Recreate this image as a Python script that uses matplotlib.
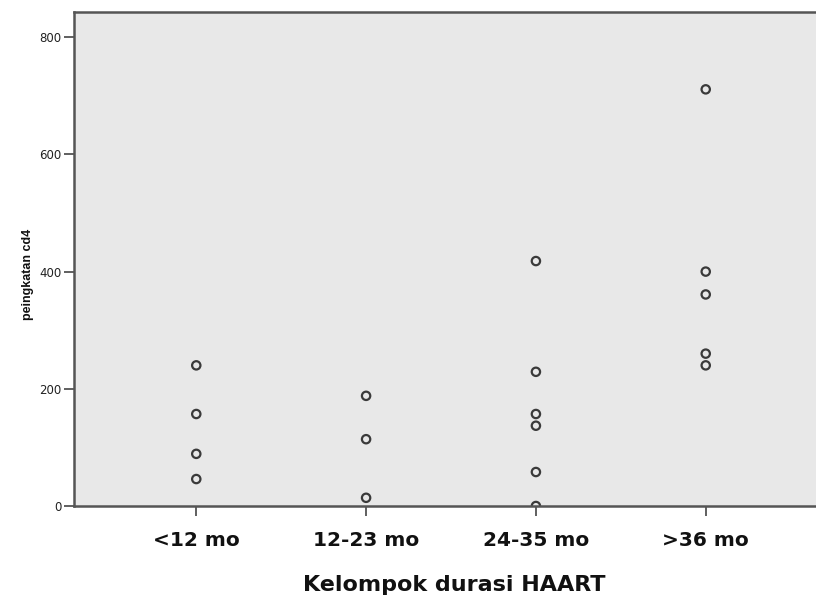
import matplotlib
matplotlib.use("Agg")
import matplotlib.pyplot as plt
from matplotlib import font_manager

categories = ["<12 mo", "12-23 mo", "24-35 mo", ">36 mo"]
group_lt12 = [240, 157, 89, 46]
group_12_23 = [188, 114, 14]
group_24_35 = [418, 229, 157, 137, 58, 0]
group_gt36 = [711, 400, 361, 260, 240]
y_ticks = [0, 200, 400, 600, 800]

groups = [group_lt12, group_12_23, group_24_35, group_gt36]

names = {f.name for f in font_manager.fontManager.ttflist}
narrow = "Liberation Sans Narrow" if "Liberation Sans Narrow" in names else "Liberation Sans"

fig = plt.figure(figsize=(8.16, 5.99), dpi=100)
ax = fig.add_axes([74/816, 1-506/599, (828-74)/816, 494/599])
ax.set_facecolor("#e8e8e8")

for i, vals in enumerate(groups):
    ax.scatter([i + 1] * len(vals), vals, s=36, facecolors="none",
               edgecolors="#3a3a3a", linewidths=1.6, zorder=2, clip_on=True)

ax.set_xlim(0.28, 4.72)
ax.set_ylim(0, 843)
ax.set_xticks(range(1, len(categories) + 1))
ax.set_xticklabels(categories, fontsize=14.5, fontweight="bold", color="#111111",
                   family="DejaVu Sans")
ax.set_yticks(y_ticks)
ax.set_yticklabels([str(v) for v in y_ticks], fontsize=8.5, color="#222222")

ax.tick_params(axis="x", direction="out", length=7, width=1.2, color="#444444", pad=11)
ax.tick_params(axis="y", direction="out", length=7, width=1.2, color="#444444", pad=2)

for side in ["left", "bottom", "top"]:
    ax.spines[side].set_color("#555555")
    ax.spines[side].set_linewidth(1.8)
    ax.spines[side].set_zorder(3)
ax.spines["right"].set_visible(False)

ax.set_xlabel("Kelompok durasi HAART", fontsize=16, fontweight="bold",
              color="#111111", family="DejaVu Sans")
ax.xaxis.set_label_coords((454 - 74) / 754, -(585 - 506) / 494)
ax.xaxis.label.set_verticalalignment("center")
ax.set_ylabel("peingkatan cd4", fontsize=9, fontweight="bold", color="#111111",
              family=narrow)
ax.yaxis.set_label_coords((34 - 74) / 754, (506 - 274) / 494)

fig.savefig("out.png", dpi=100)
